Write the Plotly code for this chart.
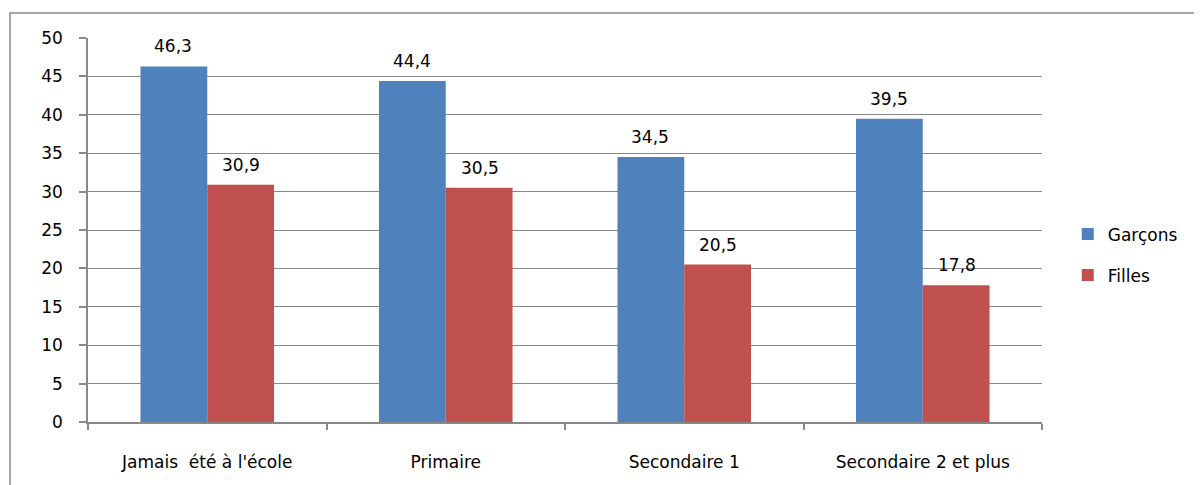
import plotly.graph_objects as go

categories = ["Jamais  été à l'école", "Primaire", "Secondaire 1", "Secondaire 2 et plus"]
garcons = [46.3, 44.4, 34.5, 39.5]
filles = [30.9, 30.5, 20.5, 17.8]

blue = "#4F81BD"
red = "#C0504D"
grid = "#888888"
font_family = "DejaVu Sans"

fig = go.Figure()
fig.add_trace(go.Bar(x=categories, y=garcons, name="Garçons", marker=dict(color=blue, line=dict(width=0)),
                     legendgroup="g"))
fig.add_trace(go.Bar(x=categories, y=filles, name="Filles", marker=dict(color=red, line=dict(width=0)),
                     legendgroup="f"))

# value labels above the bars
for vals, shift in [(garcons, -34), (filles, 34)]:
    for c, v in zip(categories, vals):
        fig.add_annotation(x=c, y=v, text=f"{v:.1f}".replace(".", ","), showarrow=False,
                           xshift=shift, yshift=20, font=dict(size=17, color="black"))

# outer frame (page body has an 8px margin, so figure coords are page - 8)
pw, ph = 954, 384
fig.add_shape(type="rect", xref="paper", yref="paper",
              x0=(2 - 80) / pw, x1=1.3, y0=-0.3, y1=(414 - 5) / ph,
              line=dict(color="#8c8c8c", width=1.5), layer="below")

fig.update_layout(
    width=1194, height=477,
    margin=dict(l=80, r=160, t=30, b=63),
    plot_bgcolor="white", paper_bgcolor="white",
    font=dict(family=font_family, size=17, color="black"),
    barmode="group", bargap=0.44, bargroupgap=0,
    showlegend=True,
    legend=dict(x=1.027, y=0.435, xanchor="left", yanchor="middle", tracegroupgap=16,
                font=dict(size=17), itemwidth=30),
    xaxis=dict(showline=True, linecolor=grid, linewidth=1.5, ticks="outside", tickson="boundaries",
               ticklen=6, tickcolor=grid, tickwidth=1.5, ticklabelstandoff=24, showgrid=False),
    yaxis=dict(range=[0, 50], dtick=5, showline=True, linecolor=grid, linewidth=1.5,
               showgrid=True, gridcolor=grid, gridwidth=1.2, ticks="outside", ticklen=7,
               tickcolor=grid, tickwidth=1.5, ticklabelstandoff=13, zeroline=False),
)

fig.write_html("out.html")
